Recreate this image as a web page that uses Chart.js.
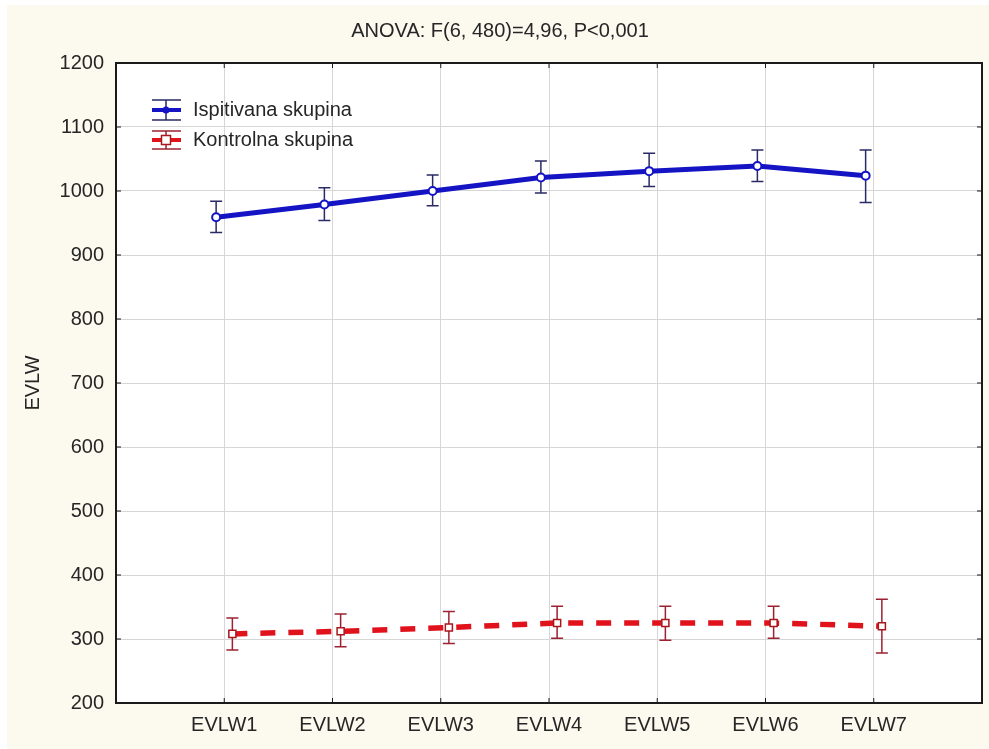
<!DOCTYPE html>
<html>
<head>
<meta charset="utf-8">
<script src="https://cdn.jsdelivr.net/npm/chart.js@4.4.1/dist/chart.umd.min.js"></script>
<style>
  html, body { margin: 0; padding: 0; background: #ffffff; }
  canvas { display: block; }
</style>
</head>
<body>
<canvas id="anovaChart" width="989" height="749"></canvas>
<script>
// values
var categories = ['EVLW1', 'EVLW2', 'EVLW3', 'EVLW4', 'EVLW5', 'EVLW6', 'EVLW7'];
var ispitivanaMean = [959, 979, 1000, 1021, 1031, 1039, 1024];
var ispitivanaLow  = [935, 954, 977, 997, 1007, 1015, 982];
var ispitivanaHigh = [984, 1005, 1025, 1047, 1059, 1064, 1064];
var kontrolnaMean = [308, 312, 318, 325, 325, 325, 320];
var kontrolnaLow  = [283, 288, 293, 301, 298, 301, 278];
var kontrolnaHigh = [333, 339, 343, 351, 351, 351, 362];
var yTicks = [200, 300, 400, 500, 600, 700, 800, 900, 1000, 1100, 1200];

var FONT = 'Liberation Sans, Arial, sans-serif';
var TEXT = '#262626';

function toPoints(values, shift) {
    return values.map(function (v, i) { return { x: i + 1 + shift, y: v }; });
}

// background: cream page, white plot area
var backgroundPlugin = {
    id: 'background',
    beforeDraw: function (chart) {
        var ctx = chart.ctx, a = chart.chartArea;
        ctx.save();
        ctx.fillStyle = '#ffffff';
        ctx.fillRect(0, 0, chart.width, chart.height);
        ctx.fillStyle = '#fcf9ef';
        ctx.fillRect(7, 5, chart.width - 7, chart.height - 5);
        ctx.fillStyle = '#ffffff';
        ctx.fillRect(a.left, a.top, a.right - a.left, a.bottom - a.top);
        ctx.restore();
    }
};

// vertical error bars from the low/high arrays
var errorBarPlugin = {
    id: 'errorBars',
    beforeDatasetsDraw: function (chart) {
        var ctx = chart.ctx, yScale = chart.scales.y;
        chart.data.datasets.forEach(function (ds, i) {
            var meta = chart.getDatasetMeta(i);
            ctx.save();
            ctx.strokeStyle = ds.errorColor;
            ctx.lineWidth = 1.5;
            meta.data.forEach(function (pt, j) {
                var top = yScale.getPixelForValue(ds.high[j]);
                var bot = yScale.getPixelForValue(ds.low[j]);
                ctx.beginPath();
                ctx.moveTo(pt.x, top); ctx.lineTo(pt.x, bot);
                ctx.moveTo(pt.x - 6, top); ctx.lineTo(pt.x + 6, top);
                ctx.moveTo(pt.x - 6, bot); ctx.lineTo(pt.x + 6, bot);
                ctx.stroke();
            });
            ctx.restore();
        });
    }
};

// black frame with inward tick marks, and the legend inside the plot
var framePlugin = {
    id: 'frame',
    afterDraw: function (chart) {
        var ctx = chart.ctx, a = chart.chartArea;
        var xs = chart.scales.x, ys = chart.scales.y;
        ctx.save();
        ctx.strokeStyle = '#1a1a1a';
        ctx.lineWidth = 1;
        ctx.beginPath();
        xs.ticks.forEach(function (t, i) {
            var px = xs.getPixelForTick(i);
            ctx.moveTo(px, a.bottom); ctx.lineTo(px, a.bottom - 5);
            ctx.moveTo(px, a.top); ctx.lineTo(px, a.top + 5);
        });
        ys.ticks.forEach(function (t, i) {
            var py = ys.getPixelForTick(i);
            ctx.moveTo(a.left, py); ctx.lineTo(a.left + 5, py);
            ctx.moveTo(a.right, py); ctx.lineTo(a.right - 5, py);
        });
        ctx.stroke();
        ctx.lineWidth = 2;
        ctx.strokeRect(a.left, a.top, a.right - a.left, a.bottom - a.top);

        // legend
        chart.data.datasets.forEach(function (ds, i) {
            var cx = a.left + 50, cy = a.top + 47 + i * 30;
            var half = i === 0 ? 10 : 9;
            ctx.strokeStyle = ds.errorColor;
            ctx.lineWidth = 1.5;
            ctx.beginPath();
            ctx.moveTo(cx - 14, cy - half); ctx.lineTo(cx + 15, cy - half);
            ctx.moveTo(cx - 14, cy + half); ctx.lineTo(cx + 15, cy + half);
            ctx.moveTo(cx, cy - half); ctx.lineTo(cx, cy + half);
            ctx.stroke();
            ctx.strokeStyle = ds.borderColor;
            ctx.lineWidth = 4;
            ctx.beginPath();
            ctx.moveTo(cx - 14, cy); ctx.lineTo(cx + 15, cy);
            ctx.stroke();
            if (i === 0) {
                ctx.fillStyle = ds.borderColor;
                ctx.beginPath();
                ctx.arc(cx, cy, 3.5, 0, Math.PI * 2);
                ctx.fill();
            } else {
                ctx.fillStyle = '#ffffff';
                ctx.fillRect(cx - 4.5, cy - 4.5, 9, 9);
                ctx.strokeStyle = ds.pointBorderColor;
                ctx.lineWidth = 1.5;
                ctx.strokeRect(cx - 4.5, cy - 4.5, 9, 9);
            }
            ctx.fillStyle = TEXT;
            ctx.font = '20px ' + FONT;
            ctx.textAlign = 'left';
            ctx.textBaseline = 'middle';
            ctx.fillText(ds.label, a.left + 77, cy);
        });
        ctx.restore();
    }
};

var ctx = document.getElementById('anovaChart').getContext('2d');
var anovaChart = new Chart(ctx, {
    type: 'line',
    data: {
        datasets: [{
            label: 'Ispitivana skupina',
            data: toPoints(ispitivanaMean, -0.075),
            low: ispitivanaLow,
            high: ispitivanaHigh,
            borderColor: '#1414c4',
            borderWidth: 5,
            errorColor: '#2a2a66',
            pointRadius: 4,
            pointBorderWidth: 2,
            pointBorderColor: '#1414c4',
            pointBackgroundColor: '#ffffff',
            tension: 0
        },
        {
            label: 'Kontrolna skupina',
            data: toPoints(kontrolnaMean, 0.075),
            low: kontrolnaLow,
            high: kontrolnaHigh,
            borderColor: '#e0121c',
            borderWidth: 5.5,
            borderDash: [15, 13],
            errorColor: '#9c2232',
            pointStyle: 'rect',
            pointRadius: 5,
            pointBorderWidth: 1.5,
            pointBorderColor: '#a8161e',
            pointBackgroundColor: '#ffffff',
            tension: 0
        }]
    },
    options: {
        responsive: false,
        animation: false,
        events: [],
        layout: { padding: { left: 18, right: 7, top: 0, bottom: 0 } },
        plugins: {
            legend: { display: false },
            tooltip: { enabled: false },
            title: {
                display: true,
                text: 'ANOVA: F(6, 480)=4,96, P<0,001',
                color: TEXT,
                font: { family: FONT, size: 20, weight: 'normal' },
                padding: { top: 19, bottom: 20 }
            }
        },
        scales: {
            x: {
                type: 'linear',
                min: 0,
                max: 8,
                afterBuildTicks: function (scale) {
                    scale.ticks = categories.map(function (c, i) { return { value: i + 1 }; });
                },
                afterFit: function (scale) { scale.height = 46; },
                grid: { color: '#d6d6d6', drawTicks: false },
                border: { display: false },
                ticks: {
                    padding: 10,
                    color: TEXT,
                    font: { family: FONT, size: 20 },
                    callback: function (value) { return categories[value - 1]; }
                }
            },
            y: {
                min: 200,
                max: 1200,
                afterBuildTicks: function (scale) {
                    scale.ticks = yTicks.map(function (v) { return { value: v }; });
                },
                afterFit: function (scale) { scale.width = 98; },
                grid: { color: '#d6d6d6', drawTicks: false },
                border: { display: false },
                ticks: {
                    padding: 12,
                    color: TEXT,
                    font: { family: FONT, size: 20 },
                    callback: function (value) { return String(value); }
                },
                title: {
                    display: true,
                    text: 'EVLW',
                    color: TEXT,
                    font: { family: FONT, size: 20 },
                    padding: { top: 3, bottom: 0 }
                }
            }
        }
    },
    plugins: [backgroundPlugin, errorBarPlugin, framePlugin]
});
</script>
</body>
</html>
